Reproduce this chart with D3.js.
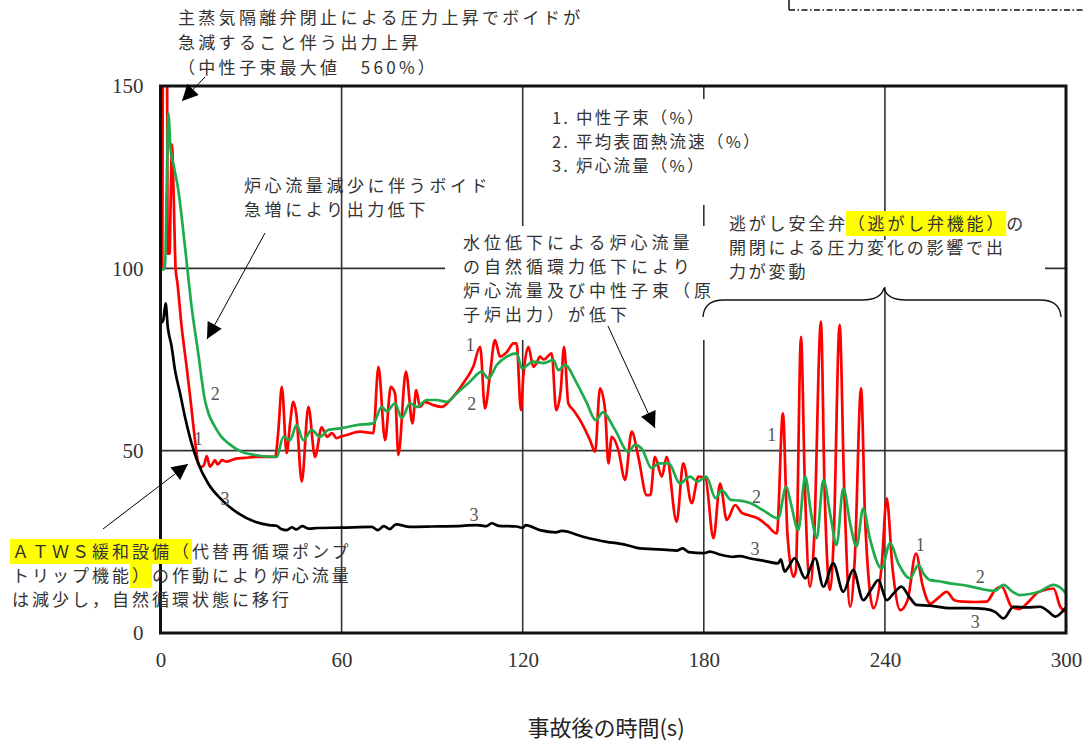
<!DOCTYPE html>
<html><head><meta charset="utf-8">
<script src="https://cdn.jsdelivr.net/npm/d3@7"></script>
<style>
html,body{margin:0;padding:0;background:#fff;}
svg{display:block;}
</style></head><body>
<svg id="chart" width="1083" height="746"></svg>
<script>
// ---- data -------------------------------------------------------------
const timeTicks = [0, 60, 120, 180, 240, 300];
const percentTicks = [0, 50, 100, 150];
const gridTimes = [60, 120, 180, 240];
const gridPercents = [50, 100];

// 1. neutron flux (%)  [time s, value %]
const neutronFlux = [[0,100],[0.6,100],[1.0,250],[1.5,560],[2.0,250],[2.4,104],[3.0,104],[3.4,120],[3.8,134],[4.3,122],[5.0,100],[5.6,96],[7,84],[8.5,74],[9.8,65],[11,56],[12.4,47],[13.4,45.5],[14.4,46],[15.3,48.5],[16.4,45.6],[17.3,46.5],[18,47.4],[19,46.2],[20.3,47.4],[22,47],[25,47.8],[28,48],[31.3,48.3],[35,48.3],[38,48.3],[39,55],[40.2,67.5],[41.8,49.3],[43,58],[44,63.4],[45,60],[46.8,41.5],[49,62],[51.2,48.3],[53.4,56.4],[55.2,53.8],[56.8,54.8],[58.4,53.4],[59.5,53.8],[61.7,54.3],[66.1,55.2],[70.5,54.8],[72.2,73],[74.4,52.9],[76.3,67.5],[77.7,65.7],[78.8,48.8],[81.3,71.7],[83.5,57.5],[84.7,66.6],[86,62],[87.6,63.4],[90.4,62.5],[93.2,62],[96,63.9],[100.3,68.5],[103.6,73],[105.9,78.5],[107.5,61.6],[109.2,71.2],[110.8,80.3],[112.5,75.8],[114.7,77],[117,79.4],[118,79.4],[119.4,61.1],[120.2,70.3],[121.9,78.5],[123.5,73],[124.6,74],[125.7,75.8],[127,75],[129.6,76.7],[131.1,61.1],[132.6,66.6],[133.7,78.5],[135.1,63],[136.8,61.1],[139.6,57.5],[142.3,52.9],[144,49.7],[145.6,67.1],[147.3,61.1],[148.4,46.5],[149.5,53.8],[151.7,50.2],[153.9,42],[156.1,55.2],[158.3,48.3],[161.1,37.8],[162.3,37.8],[163.8,48.3],[166.1,42.9],[167.7,48.3],[171,30.5],[173.2,46.5],[176,35.6],[178.2,42.9],[180.5,42.5],[183.2,26],[185.4,41],[187.6,31],[190.4,35.1],[192.5,33],[194.3,32.4],[198,31.4],[201,29.5],[204.2,27.3],[206.2,60.2],[207.7,27.3],[209.7,15.4],[210.5,17],[212.2,81.2],[213.5,40],[215.2,12.7],[216.5,25],[218.8,85.4],[220,40],[221.8,11.8],[223,25],[225,84.5],[226.5,40],[228.5,7.2],[230,20],[232.1,67.1],[233.5,30],[236.2,6.8],[238.9,18.2],[240.6,36.9],[242.5,18],[245.1,6.3],[247.5,9],[250.3,21.8],[252.5,13],[255,8.1],[257.5,9.5],[260.5,11.3],[263,9],[266,8.6],[270,8.5],[273.7,8.6],[276.5,11.8],[278.7,12.7],[282,7.2],[284.5,6.6],[287.5,8.5],[290.3,10.9],[293,11.8],[295.9,12.2],[298.1,7.2],[300,5.8]];

// 2. average surface heat flux (%)
const heatFlux = [[0,99.5],[1.5,100],[2.0,120],[2.6,142.5],[3.3,133],[4.2,128.8],[5.9,121.5],[8.1,106],[10.3,89.5],[12.5,76.7],[14.7,63.9],[16,60],[18,56.6],[20,54],[22.5,52],[26.9,49.7],[31.3,48.8],[35,48.4],[38.5,48.3],[40.7,53.8],[42.9,52.9],[45.1,57],[47.3,52.9],[50.1,55.7],[52.8,53.8],[55.6,55.7],[59.5,56.1],[65,57],[70.5,57.5],[73.3,62],[75,60.8],[77.7,63],[79.9,58.9],[82.7,63],[84.9,62],[88.2,63.9],[91.5,63.9],[94.8,63.4],[98.1,65.7],[102.5,68.9],[106.4,71.7],[108.6,69.8],[111.4,73.5],[114.7,75.8],[118,76.7],[119.7,72.6],[123.5,74.4],[127,74],[130.2,74.9],[131.8,72.1],[134,73.5],[137.9,68.5],[141,63.5],[144.3,58.4],[146.5,60.5],[150.6,55.7],[155,49.7],[157.2,51.6],[159.5,50.5],[162.7,45.2],[165,46.5],[168.4,46.5],[172.1,41],[175.4,42.9],[178,41.5],[180.8,42.9],[183.9,37],[185.9,39.2],[189,36.5],[192,36.3],[195.5,35.6],[200,33.5],[204.6,31.4],[207.3,40.1],[209,35],[211.3,28.2],[213.6,42.9],[215.5,33],[217.4,26],[219.6,42],[222,32],[224,24.1],[226.2,39.7],[228.5,30],[230.6,23.7],[232.8,34.2],[235,26],[238.9,17.7],[241.7,24.6],[244.5,19],[248.3,15],[251.1,18.6],[253,16],[255,14.5],[258,14.2],[261.6,13.6],[267,13],[273.7,11.8],[276.5,11.6],[279.3,13.2],[282,11.5],[284.8,10.4],[288,10.7],[291,11.3],[295.9,13.2],[298,12.5],[300,10.9]];

// 3. core flow (%)
const coreFlow = [[0,84.9],[0.9,85.8],[1.7,90.4],[2.4,84],[3.7,78.5],[4.8,72.1],[6.5,65.7],[8.1,59.3],[10.3,52],[12.5,46.5],[15.8,41],[20.3,36.5],[25.8,32.8],[31.3,30.5],[36,29.6],[38.5,29.4],[40,28.5],[41.8,28.2],[43.5,29],[45,28.4],[47,29.3],[49,28.6],[52,28.8],[60,28.9],[70,29.1],[72,28.2],[74,29.3],[76,28.5],[78,29.8],[82.7,29.1],[90,29.2],[100,29.4],[105,29.6],[108,29.3],[109.7,30.1],[112,29.4],[118,29.2],[120,28.8],[121,29.6],[125.7,28.2],[131,27.6],[133,28],[140,26.4],[147.8,25],[152,24.5],[155,24],[158.8,23.2],[163,23],[167.7,22.8],[171,22.6],[173,23.2],[175,22.2],[179.9,21.9],[182,22.3],[185,21.6],[189.8,20.9],[192,21.1],[195,20.5],[200,19.8],[204.6,19.1],[205.5,20.2],[206.8,16.8],[208,18],[210.1,20.5],[213.6,15],[216.9,20.5],[219.6,12.7],[222.9,19.1],[226.2,11.3],[229.5,17.3],[232.8,9],[235.5,12],[237.8,14.5],[240.6,9],[243,11],[245.5,12.7],[248,10],[250.5,7.7],[255,7.5],[261.6,6.8],[268,6.8],[273,6.6],[276.5,5.8],[279.3,4],[282.6,7.2],[287,7],[291.5,7.2],[294,6],[296.5,4.5],[299.8,6.8]];

// curve number labels placed in data units
const curveLabels = [
  {text:"1", t:12.5, v:53.4}, {text:"2", t:18.1, v:65.7}, {text:"3", t:21.4, v:36.9},
  {text:"1", t:102.6, v:79}, {text:"2", t:103.1, v:63}, {text:"3", t:103.9, v:32.4},
  {text:"1", t:202.5, v:54.3}, {text:"2", t:197.5, v:37.4}, {text:"3", t:197, v:23.2},
  {text:"1", t:251.7, v:24.1}, {text:"2", t:271.6, v:15.4}, {text:"3", t:269.9, v:3.1}
];

const legendLines = ["1. 中性子束（%）", "2. 平均表面熱流速（%）", "3. 炉心流量（%）"];

// ---- layout -------------------------------------------------------------
const svg = d3.select("#chart");
const plotL = 160.5, plotR = 1066, plotT = 86, plotB = 633;
const x = d3.scaleLinear().domain([0, 300]).range([plotL, plotR]);
const y = d3.scaleLinear().domain([0, 150]).range([plotB, plotT]);

const jpFont = "'Noto Sans CJK JP', 'Noto Sans', sans-serif";
const numFont = "'Liberation Serif', 'DejaVu Serif', serif";

const defs = svg.append("defs");

// grid
const grid = svg.append("g").attr("stroke", "#333").attr("stroke-width", 1.6);
grid.selectAll("line.v").data(gridTimes).join("line").attr("class", "v")
  .attr("x1", d => x(d)).attr("x2", d => x(d)).attr("y1", plotT).attr("y2", plotB);
grid.selectAll("line.h").data(gridPercents).join("line").attr("class", "h")
  .attr("x1", plotL).attr("x2", plotR).attr("y1", d => y(d)).attr("y2", d => y(d));

// white backing panels behind annotation text
const panels = [[545, 99, 235, 106], [445, 226, 261, 114], [706, 240, 339, 47]];
svg.append("g").selectAll("rect").data(panels).join("rect")
  .attr("x", d => d[0]).attr("y", d => d[1]).attr("width", d => d[2]).attr("height", d => d[3])
  .attr("fill", "#fff");

// curves
defs.append("clipPath").attr("id", "plotClip")
  .append("rect").attr("x", plotL).attr("y", plotT - 1).attr("width", plotR - plotL).attr("height", plotB - plotT + 1);

const line = d3.line().x(d => x(d[0])).y(d => y(d[1])).curve(d3.curveMonotoneX);
const curves = svg.append("g").attr("clip-path", "url(#plotClip)").attr("fill", "none")
  .attr("stroke-linejoin", "round").attr("stroke-linecap", "round");
curves.append("path").datum(neutronFlux).attr("d", line).attr("stroke", "#ff0000").attr("stroke-width", 2.7);
curves.append("path").datum(heatFlux).attr("d", line).attr("stroke", "#1faa4c").attr("stroke-width", 2.7);
curves.append("path").datum(coreFlow).attr("d", line).attr("stroke", "#000").attr("stroke-width", 2.7);

// frame
svg.append("rect").attr("x", plotL).attr("y", plotT).attr("width", plotR - plotL).attr("height", plotB - plotT)
  .attr("fill", "none").attr("stroke", "#111").attr("stroke-width", 3);

// axes
const xAxis = svg.append("g").attr("transform", `translate(0,${plotB})`)
  .call(d3.axisBottom(x).tickValues(timeTicks).tickSize(0).tickFormat(d3.format("d")));
xAxis.select(".domain").remove();
xAxis.selectAll("text").attr("y", 27).attr("dy", "0.35em")
  .attr("font-family", numFont).attr("font-size", 21).attr("fill", "#333");

const yAxis = svg.append("g").attr("transform", `translate(${plotL},0)`)
  .call(d3.axisLeft(y).tickValues(percentTicks).tickSize(0).tickFormat(d3.format("d")));
yAxis.select(".domain").remove();
yAxis.selectAll("text").attr("x", -17).attr("dy", "0.33em")
  .attr("font-family", numFont).attr("font-size", 21).attr("fill", "#333");

svg.append("text").attr("x", 606).attr("y", 736).attr("text-anchor", "middle")
  .attr("font-family", jpFont).attr("font-size", 22).attr("fill", "#222")
  .text("事故後の時間(s)");

// curve numbers
svg.append("g").selectAll("text").data(curveLabels).join("text")
  .attr("x", d => x(d.t)).attr("y", d => y(d.v)).attr("dy", "0.35em").attr("text-anchor", "middle")
  .attr("font-family", numFont).attr("font-size", 18).attr("fill", "#555").text(d => d.text);

// text blocks with optional highlighted spans
function textBlock(x0, y0, lines, opts = {}) {
  const g = svg.append("g");
  const size = opts.size || 17, spacing = opts.spacing == null ? 3 : opts.spacing, lh = opts.lh || 24;
  lines.forEach((ln, i) => {
    const str = typeof ln === "string" ? ln : ln.s;
    const hl = typeof ln === "string" ? null : ln.hl;
    const bg = g.append("g");
    const t = g.append("text").attr("x", x0).attr("y", y0 + i * lh).attr("dy", "0.36em")
      .attr("font-family", jpFont).attr("font-size", size).attr("letter-spacing", spacing)
      .attr("fill", "#333").text(str);
    if (hl) {
      const node = t.node();
      const a = hl[0] > 0 ? node.getSubStringLength(0, hl[0]) : 0;
      const w = node.getSubStringLength(hl[0], hl[1] - hl[0]);
      bg.append("rect").attr("x", x0 + a - 2).attr("y", y0 + i * lh - 13)
        .attr("width", w + 2).attr("height", 25).attr("fill", "#ffff00");
    }
  });
  return g;
}

textBlock(178, 18, ["主蒸気隔離弁閉止による圧力上昇でボイドが", "急減すること伴う出力上昇", "（中性子束最大値　560%）"], {lh: 25, spacing: 3.3});
textBlock(244, 186, ["炉心流量減少に伴うボイド", "急増により出力低下"], {spacing: 3.6});
textBlock(552, 118, legendLines, {size: 16.5, spacing: 2.2});
textBlock(463, 243, ["水位低下による炉心流量", "の自然循環力低下により", "炉心流量及び中性子束（原", "子炉出力）が低下"], {spacing: 4});
textBlock(729, 224, [{s: "逃がし安全弁（逃がし弁機能）の", hl: [6, 14]}, "開閉による圧力変化の影響で出", "力が変動"], {spacing: 2.8});
textBlock(12, 552, [{s: "ＡＴＷＳ緩和設備（代替再循環ポンプ", hl: [0, 9]}, {s: "トリップ機能）の作動により炉心流量", hl: [6, 7]}, "は減少し，自然循環状態に移行"], {spacing: 3});

// arrows
defs.append("marker").attr("id", "head").attr("viewBox", "0 0 10 10").attr("refX", 10).attr("refY", 5)
  .attr("markerUnits", "userSpaceOnUse").attr("markerWidth", 18).attr("markerHeight", 16).attr("orient", "auto")
  .append("path").attr("d", "M0,0 L10,5 L0,10 Z").attr("fill", "#000");
const arrows = [[205, 77, 182, 101], [265, 233, 207, 339], [608, 326, 655, 428], [103, 529, 188, 464]];
svg.append("g").selectAll("line").data(arrows).join("line")
  .attr("x1", d => d[0]).attr("y1", d => d[1]).attr("x2", d => d[2]).attr("y2", d => d[3])
  .attr("stroke", "#000").attr("stroke-width", 1).attr("marker-end", "url(#head)");

// brace under the relief-valve note
svg.append("path")
  .attr("d", "M703,317 Q704,300 724,300 L862,300 Q881,300 884,288 Q887,300 906,300 L1040,300 Q1060,300 1061,317")
  .attr("fill", "none").attr("stroke", "#111").attr("stroke-width", 1.3);

// partial frame at the top right
svg.append("line").attr("x1", 789).attr("x2", 789).attr("y1", 0).attr("y2", 10).attr("stroke", "#111").attr("stroke-width", 1.5);
svg.append("line").attr("x1", 789).attr("x2", 1083).attr("y1", 10).attr("y2", 10)
  .attr("stroke", "#111").attr("stroke-width", 1.5).attr("stroke-dasharray", "6,2.5,1.5,2.5");
</script>
</body></html>
